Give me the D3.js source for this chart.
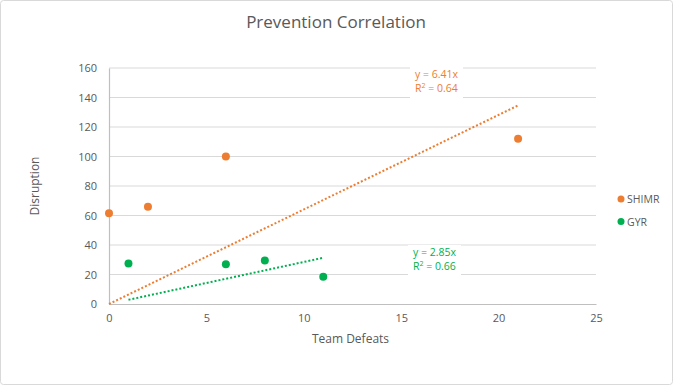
<!doctype html>
<html>
<head>
<script src="https://d3js.org/d3.v7.min.js"></script>
<style>
  body { margin: 0; background: #fff; }
  text { font-family: "Open Sans", sans-serif; }
</style>
</head>
<body>
<script>
// data
var shimrX = [0, 2, 6, 21];
var shimrY = [61.5, 66, 100, 112];
var gyrX = [1, 6, 8, 11];
var gyrY = [27.5, 27, 29.5, 18.5];
var seriesNames = ["SHIMR", "GYR"];
var slopes = [6.41, 2.85];
var rSquared = [0.64, 0.66];
var xTicks = [0, 5, 10, 15, 20, 25];
var yTicks = [0, 20, 40, 60, 80, 100, 120, 140, 160];

var colors = ["#ed7d31", "#00b050"];
var W = 673, H = 385;
var margin = {top: 68, right: 77, bottom: 81, left: 109},
    width = W - margin.left - margin.right,
    height = H - margin.top - margin.bottom;

var svg = d3.select("body").append("svg")
    .attr("width", W)
    .attr("height", H);

svg.append("rect")
    .attr("x", 0.5).attr("y", 0.5)
    .attr("width", W - 1).attr("height", H - 1)
    .attr("rx", 3)
    .attr("fill", "#fff")
    .attr("stroke", "#d9d9d9");

svg.append("text")
    .attr("x", 336).attr("y", 28)
    .attr("text-anchor", "middle")
    .attr("font-size", "17px")
    .attr("fill", "#595959")
    .text("Prevention Correlation");

var x = d3.scaleLinear().domain([0, 25]).range([0, width]);
var y = d3.scaleLinear().domain([0, 160]).range([height, 0]);

var g = svg.append("g")
    .attr("transform", "translate(" + margin.left + "," + margin.top + ")");

// gridlines
g.append("g")
    .selectAll("line")
    .data(yTicks.slice(1))
    .enter().append("line")
    .attr("x1", 0).attr("x2", width)
    .attr("y1", function(d) { return y(d); })
    .attr("y2", function(d) { return y(d); })
    .attr("stroke", "#d9d9d9")
    .attr("stroke-width", 1.2);

var yAxis = g.append("g")
    .call(d3.axisLeft(y).tickValues(yTicks).tickSize(0).tickPadding(12));
var xAxis = g.append("g")
    .attr("transform", "translate(0," + height + ")")
    .call(d3.axisBottom(x).tickValues(xTicks).tickSize(0).tickPadding(10));

[xAxis, yAxis].forEach(function(a) {
    a.select(".domain").attr("stroke", "#bfbfbf").attr("stroke-width", 1.2);
    a.selectAll("text").attr("fill", "#595959").attr("font-size", "11px")
        .attr("font-family", "Open Sans, sans-serif");
});

svg.append("text")
    .attr("x", margin.left + width / 2 - 2).attr("y", 343)
    .attr("text-anchor", "middle")
    .attr("font-size", "12px")
    .attr("fill", "#595959")
    .text("Team Defeats");

svg.append("text")
    .attr("transform", "translate(39," + (margin.top + height / 2) + ") rotate(-90)")
    .attr("text-anchor", "middle")
    .attr("font-size", "12px")
    .attr("fill", "#595959")
    .text("Disruption");

var series = [
    {xs: shimrX, ys: shimrY},
    {xs: gyrX, ys: gyrY}
];

// trendlines
series.forEach(function(s, i) {
    var x0 = d3.min(s.xs), x1 = d3.max(s.xs);
    g.append("line")
        .attr("x1", x(x0)).attr("y1", y(slopes[i] * x0))
        .attr("x2", x(x1)).attr("y2", y(slopes[i] * x1))
        .attr("stroke", colors[i])
        .attr("stroke-width", 2)
        .attr("stroke-dasharray", "2,2");
});

// points
series.forEach(function(s, i) {
    g.selectAll(".pt" + i)
        .data(s.xs.map(function(v, j) { return [v, s.ys[j]]; }))
        .enter().append("circle")
        .attr("class", "pt" + i)
        .attr("cx", function(d) { return x(d[0]); })
        .attr("cy", function(d) { return y(d[1]); })
        .attr("r", 4)
        .attr("fill", colors[i]);
});

// trendline labels
var labelPos = [[301, -1], [299, 177]];
series.forEach(function(s, i) {
    var lg = g.append("g")
        .attr("transform", "translate(" + labelPos[i][0] + "," + labelPos[i][1] + ")");
    lg.append("rect")
        .attr("x", 0).attr("y", 0)
        .attr("width", 53).attr("height", 31)
        .attr("fill", "#fff");
    lg.append("text")
        .attr("x", 5).attr("y", 11)
        .attr("font-size", "10.5px")
        .attr("fill", colors[i])
        .text("y = " + slopes[i].toFixed(2) + "x");
    var t = lg.append("text")
        .attr("x", 5).attr("y", 25)
        .attr("font-size", "10.5px")
        .attr("fill", colors[i]);
    t.append("tspan").text("R");
    t.append("tspan").attr("dy", -4).attr("font-size", "7px").text("2");
    t.append("tspan").attr("dy", 4).text(" = " + rSquared[i].toFixed(2));
});

// legend
seriesNames.forEach(function(n, i) {
    var ly = 199 + i * 22.5;
    svg.append("circle")
        .attr("cx", 621).attr("cy", ly)
        .attr("r", 3.5)
        .attr("fill", colors[i]);
    svg.append("text")
        .attr("x", 627).attr("y", ly + 4)
        .attr("font-size", "10.5px")
        .attr("fill", "#595959")
        .text(n);
});
</script>
</body>
</html>
